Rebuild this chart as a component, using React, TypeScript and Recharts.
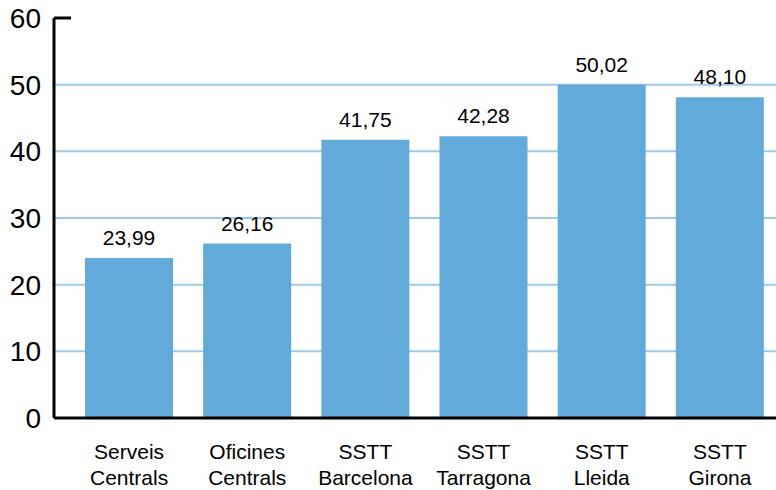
import React from "react"
import { BarChart, Bar, XAxis, YAxis, CartesianGrid, LabelList } from "recharts"

const categories = [
  ["Serveis", "Centrals"],
  ["Oficines", "Centrals"],
  ["SSTT", "Barcelona"],
  ["SSTT", "Tarragona"],
  ["SSTT", "Lleida"],
  ["SSTT", "Girona"],
]
const values = [23.99, 26.16, 41.75, 42.28, 50.02, 48.1]
const yTicks = [0, 10, 20, 30, 40, 50, 60]
const gridValues = [10, 20, 30, 40, 50]

const data = categories.map((c, i) => ({ name: c.join(" "), lines: c, value: values[i] }))

const FONT = "'Liberation Sans', Arial, Helvetica, sans-serif"

const YTick = (props: any) => {
  const { x, y, payload } = props
  return (
    <g>
      <text x={x} y={y} dy={10} textAnchor="end" fontSize={28} fontFamily={FONT} fill="#000">
        {payload.value}
      </text>
      {payload.value === 60 && (
        <line x1={x + 13} y1={y} x2={x + 30} y2={y} stroke="#000" strokeWidth={3} />
      )}
    </g>
  )
}

const XTick = (props: any) => {
  const { x, y, payload } = props
  const item = data.find(d => d.name === payload.value)
  const lines = item ? item.lines : [payload.value]
  return (
    <text x={x} y={y} textAnchor="middle" fontSize={21} fontFamily={FONT} fill="#000">
      {lines.map((l, i) => (
        <tspan key={i} x={x} dy={i === 0 ? 41 : 26}>{l}</tspan>
      ))}
    </text>
  )
}

export default function App() {
  return (
    <div style={{ position: "absolute", left: 0, top: 0, width: 776, height: 490, overflow: "hidden", background: "#fff" }}>
      <BarChart width={780} height={490} data={data} margin={{ top: 18, right: 1, left: 0, bottom: 0 }}>
        <CartesianGrid horizontal vertical={false} horizontalValues={gridValues} stroke="#9dcaeb" strokeWidth={2} />
        <XAxis
          dataKey="name"
          height={72}
          padding={{ left: 16, right: 0 }}
          axisLine={{ stroke: "#000", strokeWidth: 3 }}
          tickLine={false}
          tickSize={0}
          tickMargin={0}
          tick={<XTick />}
          interval={0}
        />
        <YAxis
          width={54}
          domain={[0, 60]}
          ticks={yTicks}
          interval={0}
          axisLine={{ stroke: "#000", strokeWidth: 3 }}
          tickLine={false}
          tickSize={0}
          tickMargin={13}
          tick={<YTick />}
        />
        <Bar dataKey="value" fill="#62aada" barSize={88} isAnimationActive={false}>
          <LabelList
            dataKey="value"
            position="top"
            offset={13}
            fontSize={21}
            fontFamily={FONT}
            fill="#000"
            formatter={(v: any) => Number(v).toFixed(2).replace(".", ",")}
          />
        </Bar>
      </BarChart>
    </div>
  )
}
